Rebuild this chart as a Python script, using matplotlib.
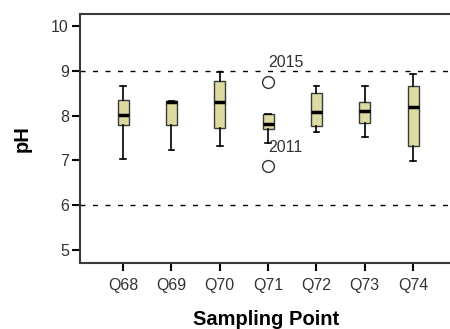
import matplotlib
matplotlib.use("Agg")
import matplotlib.pyplot as plt

plt.rcParams["font.family"] = ["Liberation Sans", "DejaVu Sans"]

# data
points = ["Q68", "Q69", "Q70", "Q71", "Q72", "Q73", "Q74"]
whislo = [7.04, 7.24, 7.33, 7.40, 7.64, 7.53, 6.98]
q1     = [7.78, 7.78, 7.73, 7.71, 7.76, 7.84, 7.33]
med    = [8.02, 8.31, 8.31, 7.82, 8.09, 8.11, 8.20]
q3     = [8.35, 8.33, 8.78, 8.04, 8.51, 8.31, 8.67]
whishi = [8.67, 8.33, 8.98, 8.04, 8.67, 8.67, 8.93]
outliers = {"Q71": [8.76, 6.87]}
outlier_labels = {"Q71": ["2015", "2011"]}
limit_lines = [9, 6]

stats = []
for i, p in enumerate(points):
    stats.append({"whislo": whislo[i], "q1": q1[i], "med": med[i],
                  "q3": q3[i], "whishi": whishi[i],
                  "fliers": outliers.get(p, [])})

fig = plt.figure(figsize=(4.5, 3.29), dpi=100)
ax = fig.add_axes([0.178, 0.2006, 0.826, 0.757])

pos = list(range(1, len(points) + 1))
ax.bxp(stats, positions=pos, widths=0.23, patch_artist=True, capwidths=0.12,
       boxprops=dict(facecolor="#dedba2", edgecolor="#3a3a3a", linewidth=1),
       medianprops=dict(color="black", linewidth=2.5),
       whiskerprops=dict(color="black", linewidth=1.2),
       capprops=dict(color="black", linewidth=1.2),
       flierprops=dict(marker="o", markersize=8.5, markerfacecolor="white",
                       markeredgecolor="#333333", markeredgewidth=1))

for p, labs in outlier_labels.items():
    x = points.index(p) + 1
    for v, lab in zip(outliers[p], labs):
        ax.text(x, v + 0.42, lab, ha="left", va="center",
                fontsize=11.5, color="#333333")

for y in limit_lines:
    ax.axhline(y, color="black", linewidth=1, dashes=(3.6, 5.4), zorder=0)

ax.set_xlim(0.11, 7.8)
ax.set_ylim(4.71, 10.27)
ax.set_yticks([5, 6, 7, 8, 9, 10])
ax.set_xticks(pos)
ax.set_xticklabels(points)
ax.tick_params(direction="out", length=6, width=1.5, labelsize=11.5,
               labelcolor="#333333", pad=2)
ax.tick_params(axis="x", pad=5)
for s in ax.spines.values():
    s.set_linewidth(1.5)
    s.set_color("#3a3a3a")
ax.spines["right"].set_visible(False)

ax.set_ylabel("pH", fontsize=14.5, fontweight="bold", labelpad=14)
ax.set_xlabel("Sampling Point", fontsize=14.5, fontweight="bold", labelpad=12)

fig.savefig("out.png", dpi=100)
